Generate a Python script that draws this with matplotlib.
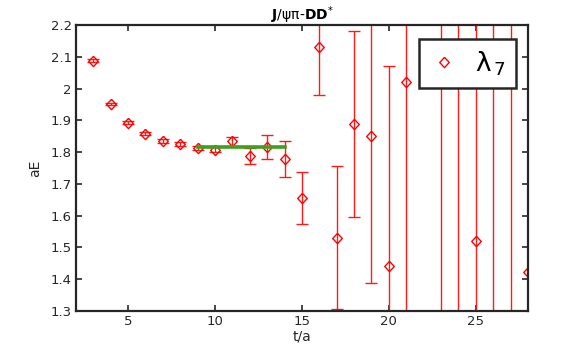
import numpy as np
import matplotlib.pyplot as plt
from matplotlib.lines import Line2D

# effective energies from the plot
t = [3, 4, 5, 6, 7, 8, 9, 10, 11, 12, 13, 14, 15, 16, 17, 18, 19, 20,
     21, 22, 23, 24, 25, 26, 27, 28]
aE = [2.088, 1.951, 1.893, 1.858, 1.835, 1.827, 1.812, 1.808, 1.835, 1.787,
      1.816, 1.779, 1.655, 2.131, 1.531, 1.888, 1.852, 1.442,
      2.020, np.nan, 2.60, 0.95, 1.520, 2.70, 0.90, 1.423]
err = [0.004, 0.004, 0.004, 0.005, 0.005, 0.006, 0.006, 0.009, 0.014, 0.025,
       0.037, 0.056, 0.082, 0.150, 0.226, 0.293, 0.464, 0.630,
       1.200, np.nan, 1.80, 1.60, 1.500, 2.00, 1.90, 1.600]

fit_range = [9, 14]
fit_value = 1.815


def main():
    fig = plt.figure(figsize=(5.84, 3.54), dpi=100)
    ax = fig.add_axes([0.130, 0.1215, 0.774, 0.8075])

    diamond = [(0, 1), (0.93, 0), (0, -1), (-0.93, 0), (0, 1)]
    red = '#ff0000'

    ax.errorbar(t, aE, yerr=err, fmt='none', ecolor='#ff1a1a',
                elinewidth=1.0, capsize=4, capthick=1.0, zorder=2)
    ax.plot(t, aE, ls='none', marker=diamond, ms=7.4, mfc='none',
            mec=red, mew=1.0, zorder=2)
    ax.plot(fit_range, [fit_value, fit_value], color='#3f9f1f', lw=2.6,
            zorder=3)

    ax.set_xlim(2, 28)
    ax.set_ylim(1.3, 2.2)
    ax.set_xticks([5, 10, 15, 20, 25])
    ax.set_yticks([1.3, 1.4, 1.5, 1.6, 1.7, 1.8, 1.9, 2.0, 2.1, 2.2])
    ax.set_yticklabels(['1.3', '1.4', '1.5', '1.6', '1.7', '1.8', '1.9',
                        '2', '2.1', '2.2'])

    dark = '#262626'
    for s in ax.spines.values():
        s.set_linewidth(1.6)
        s.set_color(dark)
    ax.tick_params(direction='in', length=4, width=1.2, top=True, right=True,
                   colors=dark, labelsize=9.5, labelcolor=dark, pad=3)

    ax.set_xlabel('t/a', fontsize=10, color=dark, labelpad=1)
    ax.set_ylabel('aE', fontsize=10, color=dark, labelpad=6)
    ax.set_title(r'$\mathbf{J}$/ψπ-$\mathbf{DD}^{*}$', fontsize=10,
                 color='black', pad=4)

    handle = Line2D([], [], ls='none', marker=diamond, ms=7.4, mfc='none',
                    mec=red, mew=1.0)
    leg = ax.legend([handle], [r'λ$_{\,7}$'], loc='upper right',
                    bbox_to_anchor=(0.973, 0.951), fontsize=19, frameon=True,
                    fancybox=False, framealpha=1, handlelength=1.2,
                    handletextpad=0.55, borderpad=0.38, borderaxespad=0)
    leg.get_frame().set_edgecolor(dark)
    leg.get_frame().set_linewidth(1.8)
    leg.set_zorder(5)

    fig.savefig('out.png', dpi=100)


if __name__ == "__main__":
    main()
